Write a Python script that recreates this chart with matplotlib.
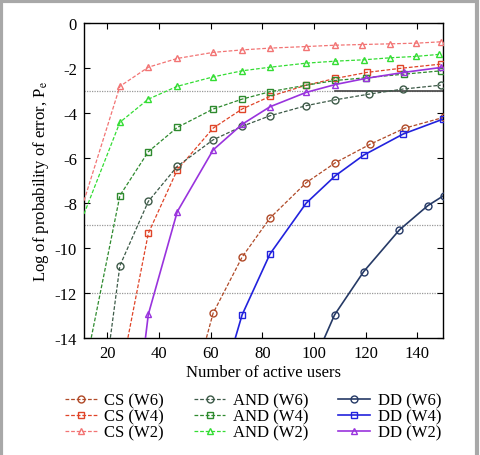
import numpy as np
import matplotlib
matplotlib.use("Agg")
import matplotlib.pyplot as plt
from matplotlib.patches import Rectangle

plt.rcParams['font.family'] = ['Liberation Serif', 'DejaVu Serif']
plt.rcParams['mathtext.fontset'] = 'stix'
plt.rcParams['axes.unicode_minus'] = False

# data (first point of each curve is where it leaves the frame)
cs_w6_x = [58.4, 61, 72.2, 83, 97, 108.3, 121.9, 135.2, 150.3]
cs_w6_y = [-14, -12.9, -10.41, -8.67, -7.10, -6.21, -5.38, -4.67, -4.19]
cs_w4_x = [28.0, 35.9, 47.1, 61, 72.2, 83, 97, 108.3, 120.6, 133.5, 149.3]
cs_w4_y = [-14, -9.35, -6.53, -4.67, -3.82, -3.26, -2.76, -2.46, -2.19, -2.01, -1.82]
cs_w2_x = [11, 24.9, 35.9, 47.1, 61, 72.2, 83, 97, 108.3, 118.6, 129.3, 139.7, 149.1]
cs_w2_y = [-7.9, -2.81, -1.96, -1.57, -1.30, -1.19, -1.11, -1.04, -0.98, -0.95, -0.92, -0.89, -0.83]

and_w6_x = [21.2, 24.9, 35.9, 47.1, 61, 72.2, 83, 97, 108.3, 121.2, 134.6, 149.1]
and_w6_y = [-14, -10.79, -7.93, -6.37, -5.19, -4.59, -4.12, -3.67, -3.41, -3.16, -2.93, -2.76]
and_w4_x = [13.8, 24.9, 35.9, 47.1, 61, 72.2, 83, 97, 108.3, 120, 134.8, 149.3]
and_w4_y = [-14, -7.67, -5.72, -4.64, -3.82, -3.38, -3.05, -2.76, -2.55, -2.43, -2.27, -2.12]
and_w2_x = [11, 24.9, 35.9, 47.1, 61, 72.2, 83, 97, 108.3, 119.3, 129.6, 139.4, 148.4]
and_w2_y = [-8.49, -4.41, -3.38, -2.81, -2.39, -2.12, -1.96, -1.78, -1.69, -1.63, -1.54, -1.48, -1.39]

dd_w6_x = [104.1, 108, 119.3, 133.1, 144.1, 150.3]
dd_w6_y = [-14, -12.98, -11.05, -9.2, -8.12, -7.67]
dd_w4_x = [69.6, 72.2, 83, 97, 108.3, 119.3, 134.6, 150]
dd_w4_y = [-14, -12.98, -10.27, -8.01, -6.79, -5.87, -4.93, -4.27]
dd_w2_x = [34.8, 35.9, 47.1, 61, 72.2, 83, 97, 108.3, 120, 134.8, 149.3]
dd_w2_y = [-14, -12.96, -8.39, -5.64, -4.50, -3.72, -3.08, -2.73, -2.46, -2.19, -1.97]

ref_levels = [-3, -9, -12]

fig = plt.figure(figsize=(4.8, 4.56), dpi=100)
ax = fig.add_axes([0.175, 0.257, 0.748, 0.690])

for lv in ref_levels:
    ax.axhline(lv, color='#999999', lw=0.9, ls=(0, (1, 1)), zorder=1)
ax.plot([108, 150], [-3, -3], color='#444444', lw=1.2, zorder=1)

dash = (0, (3, 1.5))
series = [
    (cs_w6_x, cs_w6_y, 'CS (W6)', '#b04a28', 'o', dash),
    (cs_w4_x, cs_w4_y, 'CS (W4)', '#e04428', 's', dash),
    (cs_w2_x, cs_w2_y, 'CS (W2)', '#f27474', '^', dash),
    (and_w6_x, and_w6_y, 'AND (W6)', '#3d5a48', 'o', dash),
    (and_w4_x, and_w4_y, 'AND (W4)', '#2e8a2e', 's', dash),
    (and_w2_x, and_w2_y, 'AND (W2)', '#33dd33', '^', dash),
    (dd_w6_x, dd_w6_y, 'DD (W6)', '#263a66', 'o', '-'),
    (dd_w4_x, dd_w4_y, 'DD (W4)', '#2222dd', 's', '-'),
    (dd_w2_x, dd_w2_y, 'DD (W2)', '#9933dd', '^', '-'),
]
for xs, ys, lab, col, mk, ls in series:
    ax.plot(xs, ys, color=col, ls=ls, lw=1.2 if ls == '-' else 0.9,
            marker=mk, ms=5, mfc='none', mew=1.0, markevery=slice(1, None),
            label=lab, zorder=3)

ax.set_xlim(11, 150)
ax.set_ylim(-14, 0)
ax.set_xticks([20, 40, 60, 80, 100, 120, 140])
ax.set_yticks([0, -2, -4, -6, -8, -10, -12, -14])
ax.tick_params(direction='in', top=True, right=True, labelsize=12, length=4, pad=5)
ax.set_xlabel('Number of active users', fontsize=12, labelpad=2)
ax.set_ylabel('Log of probability of error, P$_{\\mathrm{e}}$', fontsize=12, labelpad=3)
for sp in ax.spines.values():
    sp.set_linewidth(1.0)

fig.legend(loc='upper center', bbox_to_anchor=(0.527, 0.152), ncol=3, frameon=False,
           fontsize=12, handlelength=1.9, handletextpad=0.45, columnspacing=1.8,
           labelspacing=0.0, borderaxespad=0)

fig.patches.append(Rectangle((0.003, -0.01), 0.99, 1.0065, transform=fig.transFigure,
                             fill=False, edgecolor='#a8a8a8', lw=3))

fig.savefig('out.png', dpi=100)
